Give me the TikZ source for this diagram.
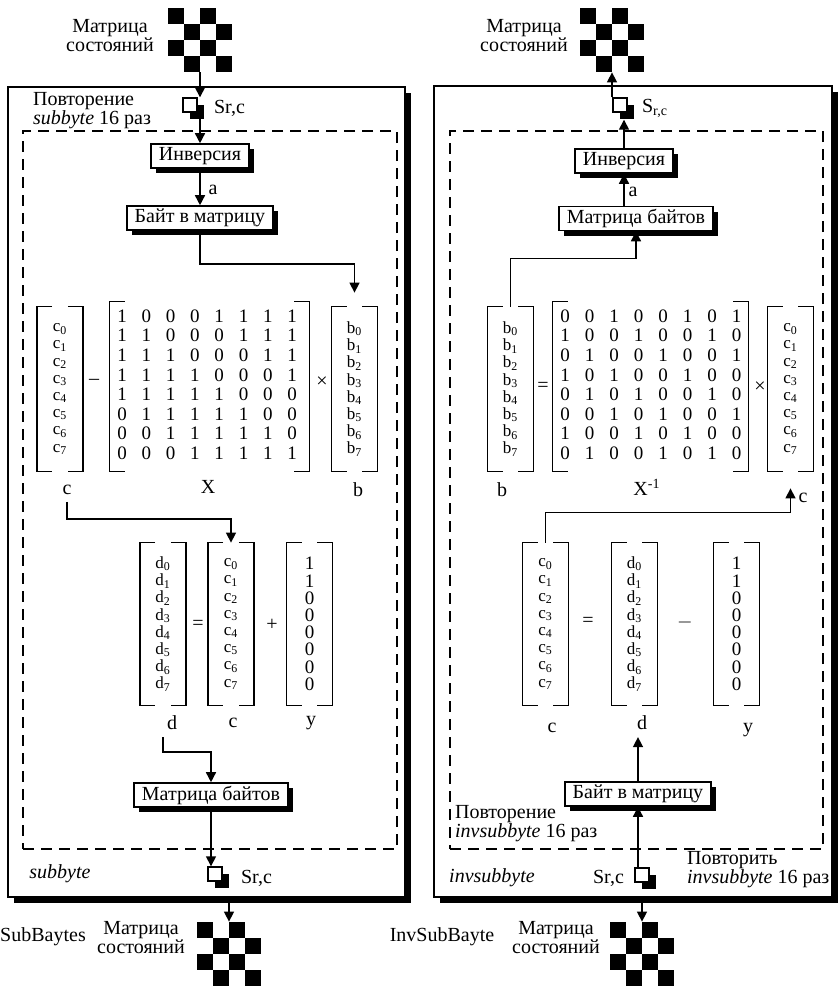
\documentclass[tikz,border=0pt]{standalone}
\usepackage{fontspec}
\setmainfont{Liberation Serif}
\usepackage{tikz}
\usetikzlibrary{arrows.meta}
\usetikzlibrary{shadows}
\usetikzlibrary{calc}
\tikzset{sbox/.style={draw, fill=white, line width=0.8pt, inner xsep=4pt, inner ysep=0pt,
   minimum height=12pt, drop shadow={shadow xshift=2.5pt, shadow yshift=-2.5pt, opacity=1, fill=black}},
 frame/.style={draw, fill=white, line width=0.9pt, inner sep=0pt,
   drop shadow={shadow xshift=3pt, shadow yshift=-3pt, opacity=1, fill=black}},
 loop/.style={draw, dash pattern=on 5.5pt off 3.5pt, line width=0.8pt, inner sep=0pt},
 cell/.style={draw, fill=white, line width=0.7pt, minimum size=7pt, inner sep=0pt,
   drop shadow={shadow xshift=3.5pt, shadow yshift=-3.5pt, opacity=1, fill=black}},
 vec/.style={minimum width=22.5pt, minimum height=82pt, inner sep=0pt, align=center,
   font=\fontsize{8.5}{8.6}\selectfont},
 ones/.style={vec, font=\fontsize{9.5}{8.6}\selectfont},
 mat/.style={minimum height=84.5pt, inner sep=0pt},
 dig/.style={inner sep=0pt, font=\fontsize{9.5}{10}\selectfont},
 brk/.style={line width=0.8pt},
 arr/.style={line width=0.75pt, -{Triangle[length=5pt,width=5pt]}},
 board/.style={minimum size=32pt, inner sep=0pt, path picture={
   \foreach \i in {0,...,3} {\foreach \j in {0,...,3} {
     \pgfmathtruncatemacro\odd{mod(\i+\j,2)}
     \ifnum\odd=0 \fill[black] ([shift={(\i*8pt,-\j*8pt)}]path picture bounding box.north west) rectangle ++(8pt,-8pt);\fi
   }}}},
 }

\begin{document}
\begin{tikzpicture}[x=0.5pt, y=-0.5pt, font=\fontsize{10}{9.5}\selectfont]
    \useasboundingbox (0,0) rectangle (837,986);
    % frames
    \node[frame, minimum width=198.5pt, minimum height=405pt] (outL) at (206.5,492) {};
    \node[frame, minimum width=199pt, minimum height=405.5pt] (outR) at (633,491.5) {};
    \node[loop, minimum width=187pt, minimum height=359pt] (loopL) at (210,490) {};
    \node[loop, minimum width=186.5pt, minimum height=359pt] (loopR) at (636.5,490) {};

    % subbyte
    \node[board] (boardL) at (200,40) {};
    \node[align=center] (msL) at (110,36) {Матрица\\состояний};
    \node[align=left, anchor=west] (repL) at (26,111) {Повторение\\\textit{subbyte} 16 раз};
    \node[cell] (srcL) at (190,105) {};
    \node[anchor=west] (srcLt) at (207,108) {Sr,c};
    \node[sbox] (invL) at (200,156) {Инверсия};
    \node (aL) at (213,190) {a};
    \node[sbox] (baitL) at (200,218) {Байт в матрицу};

    \node[vec] (cL) at (60,389) {c\textsubscript{0}\\c\textsubscript{1}\\c\textsubscript{2}\\c\textsubscript{3}\\c\textsubscript{4}\\c\textsubscript{5}\\c\textsubscript{6}\\c\textsubscript{7}};
    \node (mnL) at (94,382) {–};
    \node[mat, minimum width=99.5pt] (XL) at (209.5,386.5) {};
    \foreach \row [count=\r] in {{1,0,0,0,1,1,1,1},{1,1,0,0,0,1,1,1},{1,1,1,0,0,0,1,1},{1,1,1,1,0,0,0,1},
                                 {1,1,1,1,1,0,0,0},{0,1,1,1,1,1,0,0},{0,0,1,1,1,1,1,0},{0,0,0,1,1,1,1,1}} {
        \foreach \v [count=\k] in \row {
            \node[dig] (XL-\r-\k) at ({97.7+24.3*\k},{296.4+19.6*\r}) {\v};
        }
    }
    \node (tmL) at (322,382) {×};
    \node[vec] (bL) at (354.5,389) {b\textsubscript{0}\\b\textsubscript{1}\\b\textsubscript{2}\\b\textsubscript{3}\\b\textsubscript{4}\\b\textsubscript{5}\\b\textsubscript{6}\\b\textsubscript{7}};
    \node (cLlab) at (67,490) {c};
    \node (XLlab) at (208,487) {X};
    \node (bLlab) at (358,490) {b};

    \node[vec, minimum height=81pt] (dL) at (163,624) {d\textsubscript{0}\\d\textsubscript{1}\\d\textsubscript{2}\\d\textsubscript{3}\\d\textsubscript{4}\\d\textsubscript{5}\\d\textsubscript{6}\\d\textsubscript{7}};
    \node (eqL) at (198,625) {=};
    \node[vec, minimum height=81pt] (cL2) at (231,624) {c\textsubscript{0}\\c\textsubscript{1}\\c\textsubscript{2}\\c\textsubscript{3}\\c\textsubscript{4}\\c\textsubscript{5}\\c\textsubscript{6}\\c\textsubscript{7}};
    \node (plL) at (272,625) {+};
    \node[ones, minimum height=81pt] (yL) at (309.5,624) {1\\1\\0\\0\\0\\0\\0\\0};
    \node (dLlab) at (172,723) {d};
    \node (cL2lab) at (233,723) {c};
    \node (yLlab) at (311,723) {y};
    \node[sbox] (mbL) at (211,795) {Матрица байтов};
    \node (subL) at (60,874) {\textit{subbyte}};
    \node[cell] (srcL2) at (215,874) {};
    \node[anchor=west] (srcL2t) at (234,878) {Sr,c};
    \node[board] (boardL2) at (229,954) {};
    \node (sbL) at (43,937) {SubBaytes};
    \node[align=center] (msL2) at (141,938) {Матрица\\состояний};

    % invsubbyte
    \node[board] (boardR) at (612,40) {};
    \node[align=center] (msR) at (524,36) {Матрица\\состояний};
    \node[cell] (srcR) at (620,105) {};
    \node[anchor=west] (srcRt) at (635,108) {S\textsubscript{r,c}};
    \node[sbox] (invR) at (624,161) {Инверсия};
    \node (aR) at (633,192) {a};
    \node[sbox] (mbR) at (636,218.5) {Матрица байтов};

    \node[vec] (bR) at (510.5,389) {b\textsubscript{0}\\b\textsubscript{1}\\b\textsubscript{2}\\b\textsubscript{3}\\b\textsubscript{4}\\b\textsubscript{5}\\b\textsubscript{6}\\b\textsubscript{7}};
    \node (eqR) at (543,387) {=};
    \node[mat, minimum width=97.5pt] (XR) at (650.5,386.5) {};
    \foreach \row [count=\r] in {{0,0,1,0,0,1,0,1},{1,0,0,1,0,0,1,0},{0,1,0,0,1,0,0,1},{1,0,1,0,0,1,0,0},
                                 {0,1,0,1,0,0,1,0},{0,0,1,0,1,0,0,1},{1,0,0,1,0,1,0,0},{0,1,0,0,1,0,1,0}} {
        \foreach \v [count=\k] in \row {
            \node[dig] (XR-\r-\k) at ({540.5+24.5*\k},{296.4+19.6*\r}) {\v};
        }
    }
    \node (tmR) at (760,387) {×};
    \node[vec] (cR) at (790.5,389) {c\textsubscript{0}\\c\textsubscript{1}\\c\textsubscript{2}\\c\textsubscript{3}\\c\textsubscript{4}\\c\textsubscript{5}\\c\textsubscript{6}\\c\textsubscript{7}};
    \node (bRlab) at (502,490) {b};
    \node (XRlab) at (647,487) {X\textsuperscript{-1}};
    \node (cRlab) at (803,498) {c};

    \node[vec, minimum height=81pt] (cR2) at (545.5,624) {c\textsubscript{0}\\c\textsubscript{1}\\c\textsubscript{2}\\c\textsubscript{3}\\c\textsubscript{4}\\c\textsubscript{5}\\c\textsubscript{6}\\c\textsubscript{7}};
    \node (eqR2) at (588,622) {=};
    \node[vec, minimum height=81pt] (dR) at (634.5,624) {d\textsubscript{0}\\d\textsubscript{1}\\d\textsubscript{2}\\d\textsubscript{3}\\d\textsubscript{4}\\d\textsubscript{5}\\d\textsubscript{6}\\d\textsubscript{7}};
    \node (mnR) at (685,622) {$-$};
    \node[ones, minimum height=81pt] (yR) at (736.5,624) {1\\1\\0\\0\\0\\0\\0\\0};
    \node (cR2lab) at (552,728) {c};
    \node (dRlab) at (642,723) {d};
    \node (yRlab) at (748,730) {y};
    \node[sbox] (bmR) at (638,794) {Байт в матрицу};
    \node[align=left, anchor=west] (repR) at (448,824) {Повторение\\\textit{invsubbyte} 16 раз};
    \node (isR) at (492,878) {\textit{invsubbyte}};
    \node[cell] (srcR2) at (642,875) {};
    \node[anchor=east] (srcR2t) at (631,878) {Sr,c};
    \node[align=left, anchor=west] (rep2R) at (680,870) {Повторить\\\textit{invsubbyte} 16 раз};
    \node[board] (boardR2) at (642,954) {};
    \node (isbR) at (442,937) {InvSubBayte};
    \node[align=center] (msR2) at (556,938) {Матрица\\состояний};

    % brackets
    \foreach \m in {cL,XL,bL,dL,cL2,yL,bR,XR,cR,cR2,dR,yR} {
        \draw[brk] ([xshift=7.5pt]\m.north west) -- (\m.north west) -- (\m.south west) -- ([xshift=7.5pt]\m.south west);
        \draw[brk] ([xshift=-7.5pt]\m.north east) -- (\m.north east) -- (\m.south east) -- ([xshift=-7.5pt]\m.south east);
    }

    % flow
    \draw[arr] (boardL.south) -- (boardL.south |- srcL.north);
    \draw[arr] (invL.north |- srcL.south) -- (invL.north);
    \draw[arr] (invL) -- (baitL);
    \draw[arr] (baitL.south) -- ++(0,33) -| ([yshift=7pt]bL.north);
    \draw[arr] (cLlab.south) -- ++(0,17) -| (cL2.north);
    \draw[arr] (dLlab.south -| dL.north) -- ++(0,15) -| (mbL.north);
    \draw[arr] (mbL.south) -- (mbL.south |- srcL2.north);
    \draw[arr] (boardL2.north |- outL.south) -- (boardL2.north);

    \draw[arr] (boardR.south |- srcR.north) -- (boardR.south);
    \draw[arr] (invR.north) -- ($(invR.north |- srcR.south)+(0,7)$);
    \draw[arr] (invR.south |- mbR.north) -- (invR.south);
    \draw[arr] (bR.north) -- ++(0,-48) -| (mbR.south);
    \draw[arr] (cR2.north) -- ++(0,-30) -| ([yshift=-8.5pt]cR.south);
    \draw[arr] (bmR.north) -- (bmR.north |- dRlab.south);
    \draw[arr] (bmR.south |- srcR2.north) -- (bmR.south);
    \draw[arr] (boardR2.north |- outR.south) -- (boardR2.north);
\end{tikzpicture}
\end{document}
